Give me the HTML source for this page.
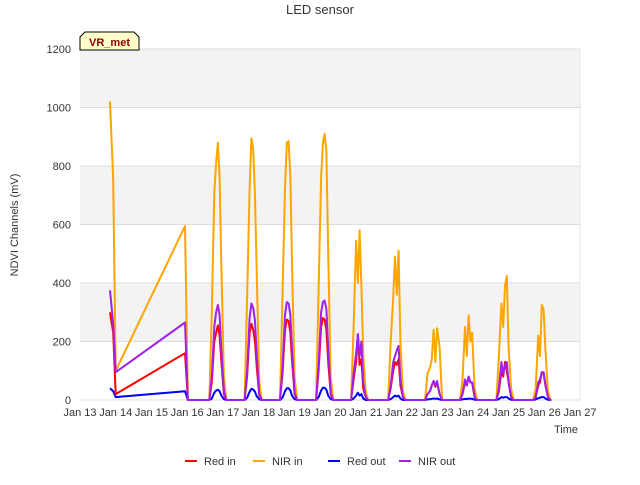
<!DOCTYPE html>
<html><head><meta charset="utf-8"><style>
body{margin:0;background:#fff;font-family:"Liberation Sans",sans-serif}
svg text{font-family:"Liberation Sans","DejaVu Sans",sans-serif}
</style></head><body>
<svg id="c" width="640" height="480">
<rect width="640" height="480" fill="#fff"/>
<text x="320" y="14" font-size="13" fill="#333" text-anchor="middle">LED sensor</text>
<g id="bands"></g><g id="grid"></g><g id="series"></g><g id="axes"></g>
<text x="566" y="433" font-size="11" fill="#333" text-anchor="middle">Time</text>
<text transform="translate(18,225) rotate(-90)" font-size="11" fill="#333" text-anchor="middle">NDVI Channels (mV)</text>
<g>
<path d="M80,50 L80,37 L85,32 L134,32 L139,37 L139,50 Z" fill="#ffffcc" stroke="#000" stroke-width="1"/>
<text x="109.5" y="46" font-size="11" font-weight="bold" fill="#8b0000" text-anchor="middle">VR_met</text>
</g>
<g id="legend"></g>
</svg>
<script>
const yTicks=[0,200,400,600,800,1000,1200];
const xTickLabels=["Jan 13","Jan 14","Jan 15","Jan 16","Jan 17","Jan 18","Jan 19","Jan 20","Jan 21","Jan 22","Jan 23","Jan 24","Jan 25","Jan 26","Jan 27"];
const seriesNames=["NIR in","Red out","Red in","NIR out"];
const seriesColors=["#ffa500","#0000ff","#ff0000","#a020f0"];
// initial segment (days since Jan 13)
const preTimes=[0.84,0.93,1.0,2.94,3.02];
const preNirIn=[1020,750,100,595,0];
const preRedIn=[300,230,20,160,0];
const preNirOut=[375,260,95,265,0];
const preRedOut=[40,30,10,30,0];
// daily peaks
const peakCenters=[3.86,4.85,5.84,6.85,7.83,8.87,9.9,10.88,11.9,12.93];
const peakOffsets=[-0.24,-0.17,-0.1,-0.05,0,0.05,0.1,0.17,0.24];
const nirInPeaks=[
[0,300,710,810,880,760,450,80,0],[0,350,720,895,860,700,420,60,0],[0,360,720,880,885,760,450,80,0],
[0,380,760,880,910,850,500,80,0],[0,250,545,400,580,390,160,30,0],[0,200,350,490,360,510,200,30,0],
[0,90,110,140,240,130,245,180,0],[0,70,250,150,290,200,230,40,0],[0,150,330,250,390,425,180,40,0],
[0,40,220,150,325,310,175,30,0]];
const redInPeaks=[
[0,60,200,230,255,220,130,20,0],[0,80,230,260,240,200,110,15,0],[0,90,240,275,270,230,130,20,0],
[0,100,250,280,275,240,130,20,0],[0,70,130,225,120,140,40,10,0],[0,40,100,130,120,140,50,10,0],
[0,20,30,50,65,45,60,20,0],[0,20,60,50,80,60,60,10,0],[0,30,100,80,130,100,60,10,0],
[0,10,50,60,95,90,50,10,0]];
const nirOutPeaks=[
[0,80,250,300,325,290,170,30,0],[0,100,280,330,315,270,150,20,0],[0,110,290,335,330,290,170,25,0],
[0,120,300,335,340,310,180,25,0],[0,90,160,225,150,200,60,10,0],[0,50,130,150,170,185,70,10,0],
[0,20,30,50,65,50,65,20,0],[0,20,70,50,80,60,60,10,0],[0,40,130,90,120,130,60,10,0],
[0,10,60,70,95,95,55,10,0]];
const redOutPeaks=[
[0,5,25,32,35,30,15,3,0],[0,8,28,38,36,28,12,2,0],[0,8,30,40,40,32,14,3,0],
[0,10,32,42,42,35,15,3,0],[0,5,15,25,15,20,5,0,0],[0,3,10,15,12,15,5,0,0],
[0,2,3,4,5,4,5,2,0],[0,2,4,3,5,4,4,1,0],[0,3,10,8,10,10,5,1,0],
[0,2,6,8,10,10,5,1,0]];

const X0=80,X1=580,Y0=400,Y1=49;
const xs=t=>X0+t*(X1-X0)/14;
const ys=v=>Y0-v*(Y0-Y1)/1200;
const NS="http://www.w3.org/2000/svg";
function mk(tag,attrs,parent){const e=document.createElementNS(NS,tag);for(const k in attrs)e.setAttribute(k,attrs[k]);parent.appendChild(e);return e;}
const bands=document.getElementById('bands'),grid=document.getElementById('grid'),axes=document.getElementById('axes'),ser=document.getElementById('series'),leg=document.getElementById('legend');
for(let i=0;i<yTicks.length-1;i++){
 const r=mk('rect',{x:X0,y:ys(yTicks[i+1]),width:X1-X0,height:ys(yTicks[i])-ys(yTicks[i+1]),fill:i%2==0?'#ffffff':'#f3f3f3'},bands);
 
 
}
yTicks.forEach(v=>{
 const l=mk('line',{x1:X0,x2:X1,y1:ys(v),y2:ys(v),stroke:'#dcdcdc','stroke-width':1},grid);
 
 
 const t=mk('text',{x:71,y:ys(v)+4,'font-size':11,fill:'#333','text-anchor':'end'},axes);
 
 
 t.textContent=v;
});
mk('line',{x1:X1,x2:X1,y1:Y1,y2:Y0,stroke:'#e6e6e6'},grid);
xTickLabels.forEach((s,i)=>{
 const t=mk('text',{x:xs(i),y:416,'font-size':11,fill:'#333','text-anchor':'middle'},axes);
 
 
 t.textContent=s;
});
function buildPts(pre,peaks){
 const p=preTimes.map((t,i)=>[t,pre[i]]);
 peakCenters.forEach((c,d)=>{peakOffsets.forEach((o,j)=>p.push([c+o,peaks[d][j]]));});
 p.push([13.2,0]);
 return p.map(q=>xs(q[0]).toFixed(1)+','+ys(q[1]).toFixed(1)).join(' ');
}
const sets=[[preNirIn,nirInPeaks],[preRedOut,redOutPeaks],[preRedIn,redInPeaks],[preNirOut,nirOutPeaks]];
sets.forEach((s,i)=>{
 const pl=mk('polyline',{points:buildPts(s[0],s[1]),fill:'none',stroke:seriesColors[i],'stroke-width':2,'stroke-linejoin':'round'},ser);
 
 
});
const legendOrder=[2,0,1,3],legX=[185,253,328,399];
legendOrder.forEach((si,k)=>{
 const g=mk('g',{},leg);
 
 
 mk('line',{x1:legX[k],x2:legX[k]+12,y1:461,y2:461,stroke:seriesColors[si],'stroke-width':2},g);
 const t=mk('text',{x:legX[k]+19,y:465,'font-size':11,fill:'#333'},g);
 t.textContent=seriesNames[si];
});
</script>
</body></html>
